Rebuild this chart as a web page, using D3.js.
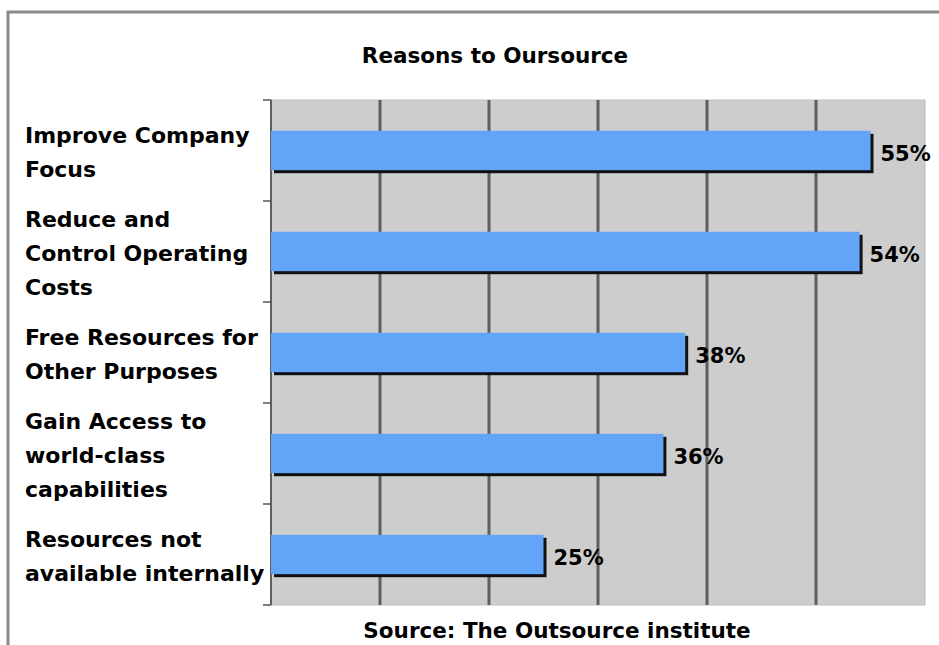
<!DOCTYPE html>
<html>
<head>
<meta charset="utf-8">
<script src="https://cdn.jsdelivr.net/npm/d3@7"></script>
<style>
  html, body { margin: 0; padding: 0; background: #fff; }
  svg { display: block; }
  text { font-family: "DejaVu Sans", Verdana, sans-serif; font-weight: bold; fill: #000; }
</style>
</head>
<body>
<script>
// Survey results: share of respondents citing each reason
const categories = [
  "Improve Company Focus",
  "Reduce and Control Operating Costs",
  "Free Resources for Other Purposes",
  "Gain Access to world-class capabilities",
  "Resources not available internally"
];
const labelLines = [
  ["Improve Company", "Focus"],
  ["Reduce and", "Control Operating", "Costs"],
  ["Free Resources for", "Other Purposes"],
  ["Gain Access to", "world-class", "capabilities"],
  ["Resources not", "available internally"]
];
const values = [55, 54, 38, 36, 25];
const xTicks = [0, 10, 20, 30, 40, 50, 60];

const W = 939, H = 645;
const plot = { left: 271, right: 925, top: 100, bottom: 605 };

const svg = d3.select("body").append("svg").attr("width", W).attr("height", H);

// outer frame
svg.append("path")
  .attr("d", `M8,${H} V12 H${W}`)
  .attr("fill", "none").attr("stroke", "#8a8a8a").attr("stroke-width", 3);

const x = d3.scaleLinear().domain([0, 60]).range([plot.left, plot.right]);
const y = d3.scaleBand().domain(categories).range([plot.top, plot.bottom]).paddingInner(0.61).paddingOuter(0.305);
const yb = d3.scaleBand().domain(categories).range([plot.top, plot.bottom]);

// plot background
svg.append("rect")
  .attr("x", plot.left).attr("y", plot.top)
  .attr("width", plot.right - plot.left).attr("height", plot.bottom - plot.top)
  .attr("fill", "#cdcdcd").attr("stroke", "#bdbdbd").attr("stroke-width", 1);

// vertical gridlines
svg.append("g").selectAll("line").data(xTicks.slice(1, -1)).join("line")
  .attr("x1", d => x(d)).attr("x2", d => x(d))
  .attr("y1", plot.top).attr("y2", plot.bottom)
  .attr("stroke", "#5e5e5e").attr("stroke-width", 3);

// category axis with ticks at band boundaries
const axisG = svg.append("g");
axisG.append("line")
  .attr("x1", plot.left).attr("x2", plot.left)
  .attr("y1", plot.top).attr("y2", plot.bottom)
  .attr("stroke", "#5e5e5e").attr("stroke-width", 2);
const boundaries = categories.map(c => yb(c)).concat([plot.bottom]);
axisG.selectAll("line.tick").data(boundaries).join("line")
  .attr("class", "tick")
  .attr("x1", plot.left - 8).attr("x2", plot.left)
  .attr("y1", d => d).attr("y2", d => d)
  .attr("stroke", "#555").attr("stroke-width", 1.5);

// bar shadows
svg.append("g").selectAll("rect").data(values).join("rect")
  .attr("x", plot.left + 3)
  .attr("y", (d, i) => y(categories[i]) + 3)
  .attr("width", d => x(d) - plot.left)
  .attr("height", y.bandwidth())
  .attr("fill", "#111");

// bars
svg.append("g").selectAll("rect").data(values).join("rect")
  .attr("x", plot.left)
  .attr("y", (d, i) => y(categories[i]))
  .attr("width", d => x(d) - plot.left)
  .attr("height", y.bandwidth())
  .attr("fill", "#62a5f8");

// value labels
svg.append("g").selectAll("text").data(values).join("text")
  .attr("x", d => x(d) + 10)
  .attr("y", (d, i) => y(categories[i]) + y.bandwidth() / 2 + 4)
  .attr("dominant-baseline", "middle")
  .attr("font-size", 21)
  .text(d => d + "%");

// category labels
const lineH = 34;
const lab = svg.append("g").selectAll("text").data(labelLines).join("text")
  .attr("font-size", 22)
  .attr("x", 25)
  .attr("y", (lines, i) => yb(categories[i]) + yb.bandwidth() / 2 + 3 - (lines.length - 1) * lineH / 2)
  .attr("dominant-baseline", "middle");
lab.selectAll("tspan").data(d => d).join("tspan")
  .attr("x", 25)
  .attr("dy", (d, j) => j === 0 ? 0 : lineH)
  .text(d => d);

// title and source note
svg.append("text").attr("x", 495).attr("y", 57)
  .attr("text-anchor", "middle").attr("dominant-baseline", "middle")
  .attr("font-size", 21.5).text("Reasons to Oursource");
svg.append("text").attr("x", 557).attr("y", 632)
  .attr("text-anchor", "middle").attr("dominant-baseline", "middle")
  .attr("font-size", 21.5).text("Source: The Outsource institute");
</script>
</body>
</html>
